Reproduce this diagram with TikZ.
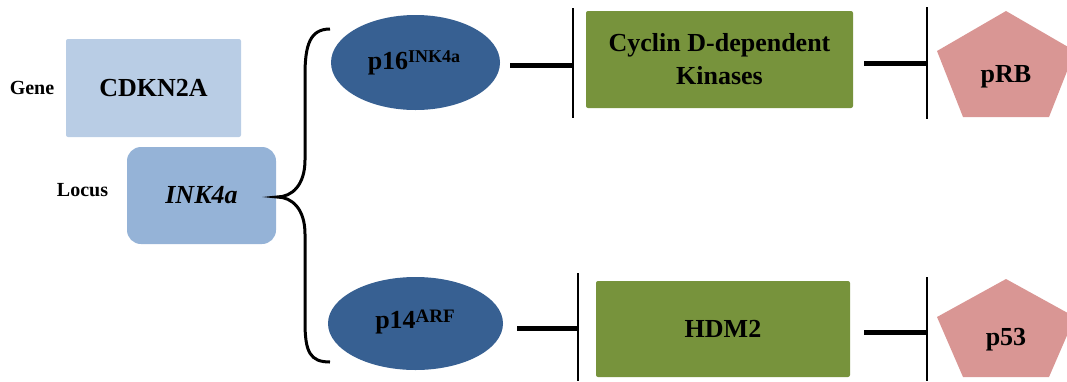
\documentclass[tikz,border=0pt]{standalone}
\usepackage{fontspec}
\setmainfont{Liberation Serif}
\usetikzlibrary{shapes.geometric}
\definecolor{geneblue}{HTML}{B9CDE5}
\definecolor{locusblue}{HTML}{95B3D7}
\definecolor{darkblue}{HTML}{376092}
\definecolor{olivegreen}{HTML}{77933C}
\definecolor{pinkred}{HTML}{D99694}
\begin{document}
\begin{tikzpicture}[x=1pt,y=-1pt,
  lbl/.style={font=\fontsize{20}{24}\selectfont\bfseries, inner sep=0},
  genebox/.style={fill=geneblue, rounded corners=2pt, inner sep=0, font=\fontsize{26}{30}\selectfont\bfseries},
  locusbox/.style={fill=locusblue, rounded corners=14pt, inner sep=0, font=\fontsize{26}{30}\selectfont\bfseries\itshape},
  prot/.style={ellipse, fill=darkblue, inner sep=0, font=\fontsize{26}{30}\selectfont\bfseries},
  kin/.style={fill=olivegreen, rounded corners=2pt, inner sep=0, align=center, font=\fontsize{26}{33}\selectfont\bfseries},
  pent/.style={fill=pinkred},
  tsup/.style={font=\fontsize{26}{30}\selectfont\bfseries, inner sep=0},
  inhib/.style={line width=5pt},
  bar/.style={line width=1.3pt},
  brace/.style={line width=3pt}
]
\useasboundingbox (0,0) rectangle (1067,381);

% Gene / locus
\node[genebox, minimum width=175pt, minimum height=98pt] (gene) at (153.5,88) {CDKN2A};
\node[lbl] (genelbl) at (32,88) {Gene};
\node[locusbox, minimum width=149pt, minimum height=97pt] (locus) at (201.5,195.5) {INK4a};
\node[lbl] (locuslbl) at (82.5,190) {Locus};

% Brace
\draw[brace] (330,29) .. controls (310,29) and (305,45) .. (305,75) -- (305,160)
  .. controls (305,185) and (292,197) .. (277,197)
  .. controls (292,197) and (305,209) .. (305,234) -- (305,322)
  .. controls (305,352) and (310,362) .. (330,362);

% Proteins
\node[prot, minimum width=169pt, minimum height=95pt] (p16) at (415.5,62.5) {};
\node[tsup] (p16t) at (414,63) {p16\raisebox{6.5pt}{\fontsize{18}{20}\selectfont INK4a}};
\node[prot, minimum width=175pt, minimum height=93pt] (p14) at (415.5,323.5) {};
\node[tsup] (p14t) at (415,322) {p14\raisebox{6.5pt}{\fontsize{19}{20}\selectfont ARF}};

% Kinases
\node[kin, minimum width=267pt, minimum height=97pt] (cdk) at (719.5,59.5) {Cyclin D-dependent\\Kinases};
\node[kin, minimum width=254pt, minimum height=96pt] (hdm) at (723,329) {HDM2};

% Pentagons
\fill[pent] (1006,11) -- (937,51) -- (963,117) -- (1049,117) -- (1075,51) -- cycle;
\node[tsup] (prb) at (1006,77) {pRB};
\fill[pent] (1006,279) -- (937,317) -- (963,377) -- (1049,377) -- (1075,317) -- cycle;
\node[tsup] (p53) at (1006,340) {p53};

% Inhibition connectors
\coordinate (a1) at (510,65); \coordinate (b1) at (573,65);
\coordinate (b1t) at (573,8); \coordinate (b1b) at (573,118);
\draw[inhib] (a1) -- (b1);
\draw[bar] (b1t) -- (b1b);

\coordinate (a2) at (864,63); \coordinate (b2) at (927,63);
\coordinate (b2t) at (927,7); \coordinate (b2b) at (927,119);
\draw[inhib] (a2) -- (b2);
\draw[bar] (b2t) -- (b2b);

\coordinate (a3) at (517,328); \coordinate (b3) at (578,328);
\coordinate (b3t) at (578,273); \coordinate (b3b) at (578,381);
\draw[inhib] (a3) -- (b3);
\draw[bar] (b3t) -- (b3b);

\coordinate (a4) at (864,332); \coordinate (b4) at (927,332);
\coordinate (b4t) at (927,277); \coordinate (b4b) at (927,381);
\draw[inhib] (a4) -- (b4);
\draw[bar] (b4t) -- (b4b);
\end{tikzpicture}
\end{document}
